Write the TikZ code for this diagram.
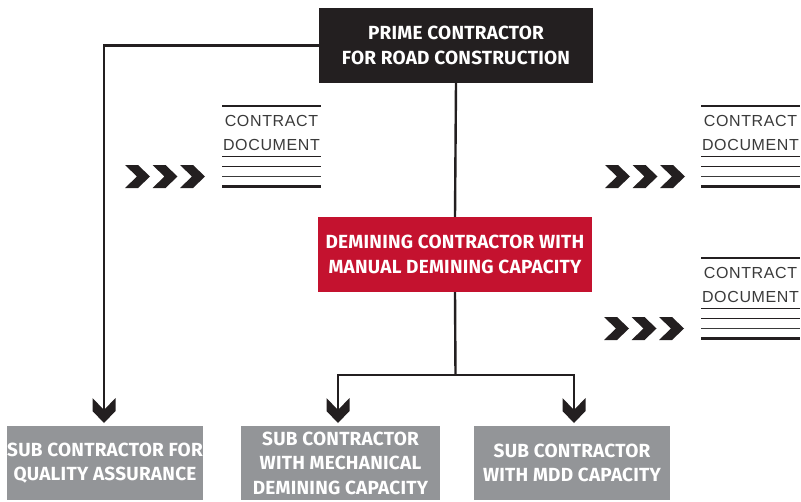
\documentclass[tikz,border=0pt]{standalone}
\usepackage{fontspec}
\setmainfont{Liberation Sans}
\newfontfamily\boxfont[LetterSpace=1.2]{Fira Sans}
\newfontfamily\docfont[LetterSpace=4]{Liberation Sans}
\definecolor{ink}{HTML}{231F20}
\definecolor{demred}{HTML}{C4122F}
\definecolor{subgray}{HTML}{939598}
\definecolor{docgray}{HTML}{3A3A3A}
\tikzset{
  conn/.style={line width=2.4pt, draw=ink},
  box/.style={inner sep=0pt, align=center, text=white, anchor=center,
    font=\boxfont\bfseries\fontsize{19}{24.5}\selectfont},
  primebox/.style={box, fill=ink, minimum width=274pt, minimum height=75pt},
  redbox/.style={box, fill=demred, minimum width=274pt, minimum height=75pt},
  subbox/.style={box, fill=subgray, minimum height=74pt},
  doctext/.style={inner sep=0pt, text=docgray, font=\docfont\fontsize{16}{16}\selectfont},
  downhead/.pic={\fill[ink] (0,0) -- (-11.5,-12) -- (-11.5,-25) -- (0,-13) -- (11.5,-25) -- (11.5,-12) -- cycle;},
  chevrons/.pic={\foreach \i in {0,27.5}{\fill[ink] (\i,0) -- (\i+13,0) -- (\i+25,11.5) -- (\i+13,23) -- (\i,23) -- (\i+12,11.5) -- cycle;}
    \fill[ink] (55,0) -- (68,0) -- (80,11.5) -- (68,23) -- (55,23) -- (67,11.5) -- cycle;},
  contractdoc/.pic={
    \draw[ink, line width=2.4pt] (0,0) -- (99,0);
    \node[doctext] (-a) at (49.5,14.5) {CONTRACT};
    \node[doctext] (-b) at (49.5,38.5) {DOCUMENT};
    \draw[ink, line width=1.4pt] (0,50.5) -- (99,50.5);
    \draw[ink, line width=1.4pt] (0,60.5) -- (99,60.5);
    \draw[docgray, line width=1.4pt] (0,70.5) -- (99,70.5);
    \draw[ink, line width=2.6pt] (0,80.5) -- (99,80.5);
  }
}
\begin{document}
\begin{tikzpicture}[x=1pt,y=-1pt]
\useasboundingbox (0,0) rectangle (801,501);
% boxes
\node[primebox] (prime) at (456,45.5) {PRIME CONTRACTOR\\FOR ROAD CONSTRUCTION};
\node[redbox] (demin) at (455,254.5) {DEMINING CONTRACTOR WITH\\MANUAL DEMINING CAPACITY};
\node[subbox, minimum width=196pt] (sqa) at (105,463) {SUB CONTRACTOR FOR\\QUALITY ASSURANCE};
\node[subbox, minimum width=199pt] (smech) at (340.5,463) {SUB CONTRACTOR\\WITH MECHANICAL\\DEMINING CAPACITY};
\node[subbox, minimum width=196pt] (smdd) at (572,463) {SUB CONTRACTOR\\WITH MDD CAPACITY};
% connector points
\coordinate (j) at (455.5,375);
\coordinate (jl) at (338,375);
\coordinate (jr) at (574,375);
\coordinate (hl) at (104,411);
\coordinate (hm) at (338,411);
\coordinate (hr) at (574,411);
% connectors
\draw[conn] (prime.south) -- (demin.north);
\draw[conn] (demin.south) -- (j);
\draw[conn] (jl) -- (jr);
\draw[conn] ([xshift=-1.2pt]jl) -- (jl) -- (hm);
\draw[conn] ([xshift=1.2pt]jr) -- (jr) -- (hr);
\draw[conn] (prime.west) -| (hl);
% arrowheads
\pic at (104,423) {downhead};
\pic at (338,423) {downhead};
\pic at (574,423) {downhead};
% chevrons and contract documents
\pic at (125,165) {chevrons};
\pic (doc1) at (222,106) {contractdoc};
\pic at (605,165) {chevrons};
\pic (doc2) at (701,106) {contractdoc};
\pic at (604,317) {chevrons};
\pic (doc3) at (701,258) {contractdoc};
\end{tikzpicture}
\end{document}
